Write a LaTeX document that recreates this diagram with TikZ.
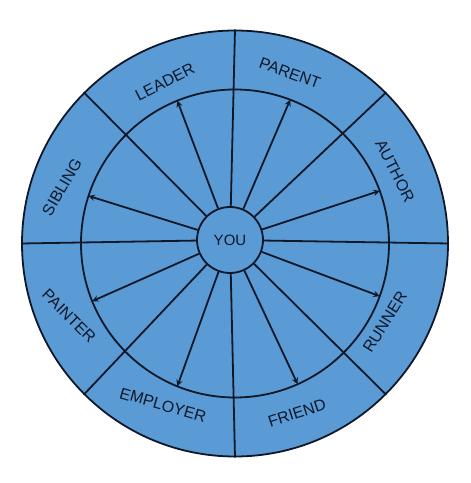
\documentclass[tikz,border=0pt]{standalone}
\usepackage{fontspec}
\setmainfont{Liberation Sans}
\usepackage{xcolor}
\usetikzlibrary{calc}
\definecolor{wheelblue}{RGB}{91,155,213}
\definecolor{wheelline}{RGB}{14,24,40}

\begin{document}
\begin{tikzpicture}[x=1pt, y=1pt]
    % Define styles
    \tikzstyle{ring} = [draw=wheelline, line width=1.8pt, fill=wheelblue]
    \tikzstyle{spoke} = [draw=wheelline, line width=1.8pt]
    \tikzstyle{arrow} = [spoke, ->, >=stealth]
    \tikzstyle{roletext} = [text=wheelline, font=\fontsize{16}{19}\selectfont, inner sep=0pt]

    \useasboundingbox (0,0) rectangle (471,483);

    % Wheel
    \coordinate (c) at (235,239.5);
    \draw [ring] (c) circle (213);
    \draw [spoke] (c) circle (154);
    \node [ring, circle, minimum size=66pt, inner sep=0pt, text=wheelline, font=\fontsize{15}{18}\selectfont] (you) at (230,243) {YOU};

    % Points on the circles
    \foreach \a in {0,45,...,315}
        \coordinate (o\a) at ($(c)+(\a:214)$);
    \foreach \a/\n in {20/author, 69/parent, 112/leader, 162/sibling, 202/painter, 248/employer, 294/friend, 340/runner}
        \coordinate (i\n) at ($(c)+(\a:154)$);

    % Spokes
    \foreach \a in {0,45,...,315}
        \draw [spoke] (you) -- (o\a);

    % Arrows
    \foreach \n in {author, parent, leader, sibling, painter, employer, friend, runner}
        \draw [arrow] (you) -- (i\n);

    % Labels
    \node [roletext, rotate=27] (leader) at (165,401) {LEADER};
    \node [roletext, rotate=-20] (parent) at (290,410) {PARENT};
    \node [roletext, rotate=-63] (author) at (395,312) {AUTHOR};
    \node [roletext, rotate=60] (sibling) at (62,296) {SIBLING};
    \node [roletext, rotate=58] (runner) at (385,161) {RUNNER};
    \node [roletext, rotate=-45] (painter) at (69,167) {PAINTER};
    \node [roletext, rotate=-16] (employer) at (163,78) {EMPLOYER};
    \node [roletext, rotate=18] (friend) at (297,70) {FRIEND};
\end{tikzpicture}
\end{document}
